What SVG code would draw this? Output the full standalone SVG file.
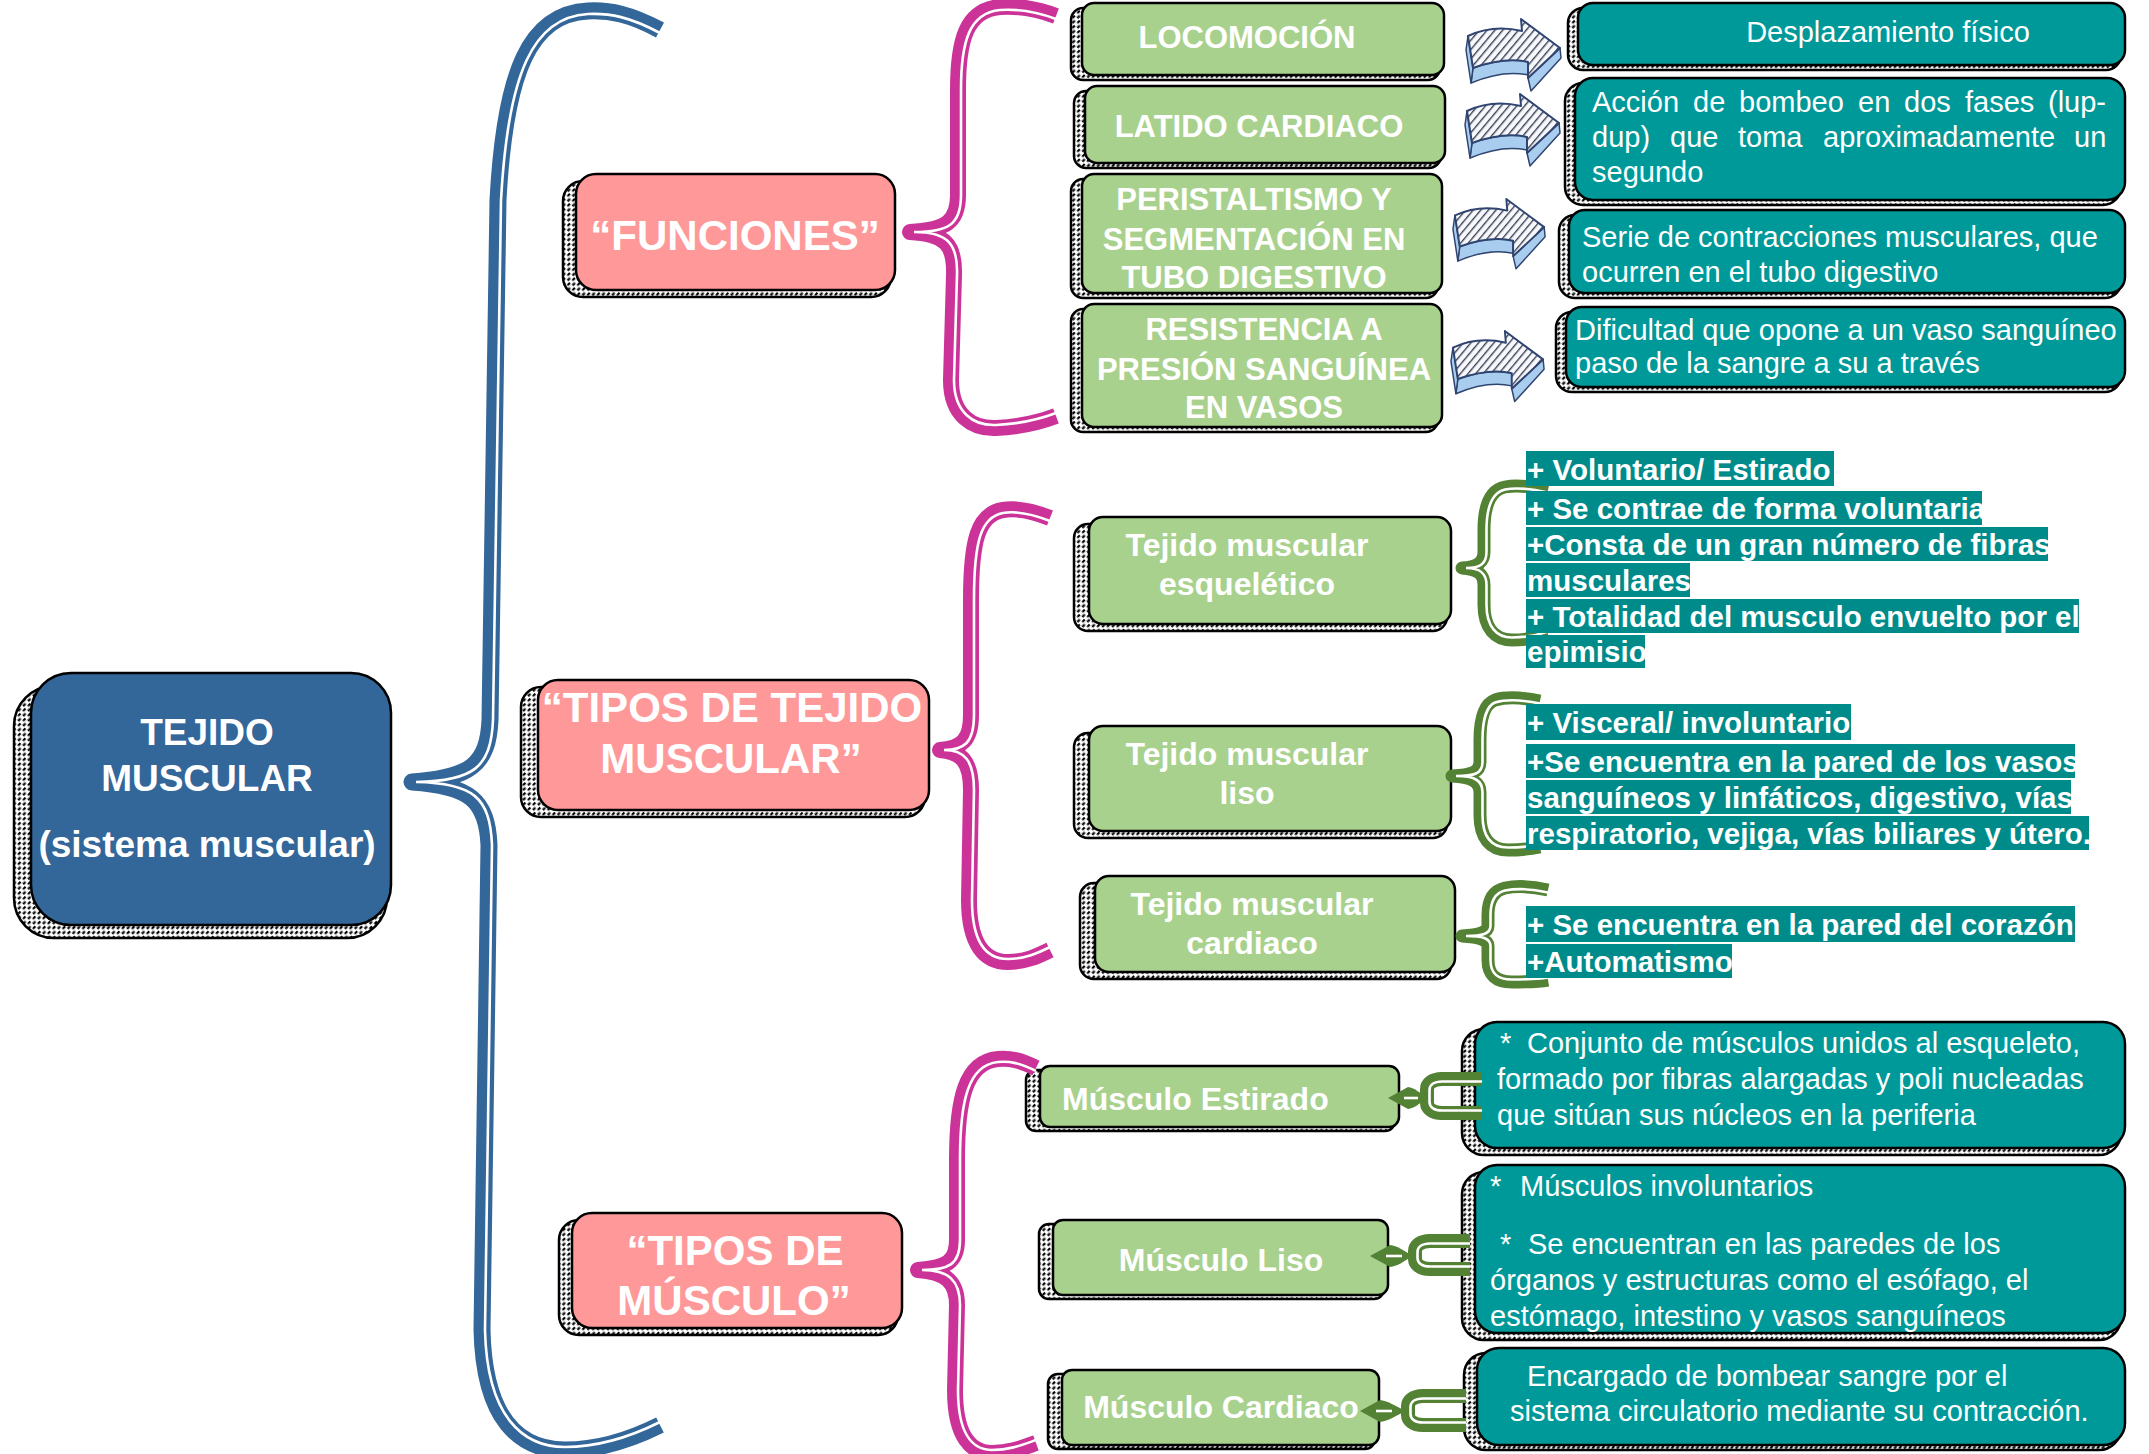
<svg xmlns="http://www.w3.org/2000/svg" width="2149" height="1454" viewBox="0 0 2149 1454">
<defs>
<style>
.sh{fill:url(#hatch);stroke:#000;stroke-width:2.5}
.bx{stroke:#000;stroke-width:2.5}
.blue{fill:#336699}
.pink{fill:#FF9999}
.green{fill:#A9D18E}
.teal{fill:#009999}
.hl{fill:#008B8B}
.tb{font-family:"Liberation Sans",Arial,sans-serif;font-weight:bold;fill:#fff}
.tr{font-family:"Liberation Sans",Arial,sans-serif;fill:#fff}
.c{text-anchor:middle}
.bb{fill:none;stroke:#336699;stroke-width:17;stroke-linejoin:round}
.pb{fill:none;stroke:#CC3399;stroke-width:16;stroke-linejoin:round}
.gb{fill:none;stroke:#548235;stroke-width:13;stroke-linejoin:round}
.wl{fill:none;stroke:#fff;stroke-width:2.6}
.gm{fill:none;stroke:#548235;stroke-width:14}
.leaf{fill:#548235}
.aface{fill:#A9CDEE;stroke:#2F4470;stroke-width:1.5;stroke-linejoin:round}
.atop{fill:url(#ahatch);stroke:#2F4470;stroke-width:2;stroke-linejoin:round}
</style>
<pattern id="hatch" width="7" height="7" patternUnits="userSpaceOnUse" patternTransform="rotate(45)">
<rect width="7" height="7" fill="#fff"/>
<rect x="0" y="0" width="2.2" height="3.5" fill="#000"/>
<rect x="3.5" y="3.5" width="2.2" height="3.5" fill="#000"/>
</pattern>
<pattern id="ahatch" width="6" height="6" patternUnits="userSpaceOnUse" patternTransform="rotate(40)">
<rect width="6" height="6" fill="#F7F8FB"/>
<rect x="0" y="0" width="1.4" height="6" fill="#3A3F55"/>
</pattern>
<g id="arr">
<path class="aface" d="M8,50 C25,44 45,40 63,44 L63,57 C45,53 25,57 6,65 Z"/>
<path class="aface" d="M95,30 L96,40 L66,73 L63,60 Z"/>
<path class="aface" d="M3,18 L8,50 L6,65 L1,32 Z"/>
<path class="atop" d="M3,18 C20,10 40,9 57,13 L56,1 L95,30 L63,60 L63,44 C45,40 25,44 8,50 Z"/>
</g>
</defs>

<rect width="2149" height="1454" fill="#fff"/>

<g id="node-tejido-muscular">
<rect class="sh" x="14" y="686" width="373" height="252" rx="40"/>
<rect class="bx blue" x="31" y="673" width="360" height="252" rx="40"/>
<text class="tb c" font-size="37" x="207" y="745">TEJIDO</text>
<text class="tb c" font-size="37" x="207" y="791">MUSCULAR</text>
<text class="tb c" font-size="37" x="207" y="857">(sistema muscular)</text>
</g>

<g id="node-funciones">
<rect class="sh" x="563" y="181" width="328" height="116" rx="20"/>
<rect class="bx pink" x="576" y="174" width="319" height="116" rx="20"/>
<text class="tb c" font-size="42" x="735" y="250">“FUNCIONES”</text>
</g>

<g id="node-tipos-tejido">
<rect class="sh" x="521" y="687" width="404" height="130" rx="20"/>
<rect class="bx pink" x="538" y="680" width="391" height="130" rx="20"/>
<text class="tb c" font-size="42" x="732" y="722">“TIPOS DE TEJIDO</text>
<text class="tb c" font-size="42" x="731" y="773">MUSCULAR”</text>
</g>

<g id="node-tipos-musculo">
<rect class="sh" x="559" y="1220" width="339" height="115" rx="20"/>
<rect class="bx pink" x="572" y="1213" width="330" height="115" rx="20"/>
<text class="tb c" font-size="42" x="735" y="1265">“TIPOS DE</text>
<text class="tb c" font-size="42" x="734" y="1315">MÚSCULO”</text>
</g>

<g id="node-locomocion">
<rect class="sh" x="1071" y="8" width="369" height="72" rx="12"/>
<rect class="bx green" x="1082" y="3" width="362" height="72" rx="12"/>
<text class="tb c" font-size="31" x="1247" y="48">LOCOMOCIÓN</text>
</g>

<g id="node-latido">
<rect class="sh" x="1074" y="91" width="367" height="77" rx="12"/>
<rect class="bx green" x="1085" y="86" width="360" height="77" rx="12"/>
<text class="tb c" font-size="31" x="1259" y="137">LATIDO CARDIACO</text>
</g>

<g id="node-peristaltismo">
<rect class="sh" x="1071" y="179" width="367" height="119" rx="12"/>
<rect class="bx green" x="1082" y="174" width="360" height="119" rx="12"/>
<text class="tb c" font-size="31" x="1254" y="210">PERISTALTISMO Y</text>
<text class="tb c" font-size="31" x="1254" y="250">SEGMENTACIÓN EN</text>
<text class="tb c" font-size="31" x="1254" y="288">TUBO DIGESTIVO</text>
</g>

<g id="node-resistencia">
<rect class="sh" x="1071" y="309" width="367" height="123" rx="12"/>
<rect class="bx green" x="1082" y="304" width="360" height="123" rx="12"/>
<text class="tb c" font-size="31" x="1264" y="340">RESISTENCIA A</text>
<text class="tb c" font-size="31" x="1264" y="380">PRESIÓN SANGUÍNEA</text>
<text class="tb c" font-size="31" x="1264" y="418">EN VASOS</text>
</g>

<g id="node-desplazamiento">
<rect class="sh" x="1568" y="8" width="553" height="62" rx="15"/>
<rect class="bx teal" x="1578" y="3" width="547" height="62" rx="15"/>
<text class="tr c" font-size="29" x="1888" y="42">Desplazamiento físico</text>
</g>

<g id="node-accion">
<rect class="sh" x="1565" y="83" width="556" height="122" rx="18"/>
<rect class="bx teal" x="1575" y="78" width="550" height="122" rx="18"/>
<text class="tr" font-size="29" y="112"><tspan x="1592">Acción</tspan><tspan x="1693">de</tspan><tspan x="1739">bombeo</tspan><tspan x="1858">en</tspan><tspan x="1904">dos</tspan><tspan x="1965">fases</tspan><tspan x="2048">(lup-</tspan></text>
<text class="tr" font-size="29" y="147"><tspan x="1592">dup)</tspan><tspan x="1670">que</tspan><tspan x="1738">toma</tspan><tspan x="1823">aproximadamente</tspan><tspan x="2074">un</tspan></text>
<text class="tr" font-size="29" x="1592" y="182">segundo</text>
</g>

<g id="node-serie">
<rect class="sh" x="1559" y="215" width="562" height="83" rx="16"/>
<rect class="bx teal" x="1569" y="210" width="556" height="83" rx="16"/>
<text class="tr" font-size="29" x="1582" y="247">Serie de contracciones musculares, que</text>
<text class="tr" font-size="29" x="1582" y="282">ocurren en el tubo digestivo</text>
</g>

<g id="node-dificultad">
<rect class="sh" x="1556" y="312" width="565" height="80" rx="16"/>
<rect class="bx teal" x="1566" y="307" width="559" height="80" rx="16"/>
<text class="tr" font-size="29" x="1575" y="340">Dificultad que opone a un vaso sanguíneo</text>
<text class="tr" font-size="29" x="1575" y="373">paso de la sangre a su a través</text>
</g>

<g id="node-esqueletico">
<rect class="sh" x="1074" y="524" width="373" height="107" rx="14"/>
<rect class="bx green" x="1089" y="517" width="362" height="107" rx="14"/>
<text class="tb c" font-size="32" x="1247" y="556">Tejido muscular</text>
<text class="tb c" font-size="32" x="1247" y="595">esquelético</text>
</g>

<g id="node-liso-tejido">
<rect class="sh" x="1074" y="733" width="373" height="105" rx="14"/>
<rect class="bx green" x="1089" y="726" width="362" height="105" rx="14"/>
<text class="tb c" font-size="32" x="1247" y="765">Tejido muscular</text>
<text class="tb c" font-size="32" x="1247" y="804">liso</text>
</g>

<g id="node-cardiaco-tejido">
<rect class="sh" x="1080" y="883" width="371" height="96" rx="14"/>
<rect class="bx green" x="1095" y="876" width="360" height="96" rx="14"/>
<text class="tb c" font-size="32" x="1252" y="915">Tejido muscular</text>
<text class="tb c" font-size="32" x="1252" y="954">cardiaco</text>
</g>

<g id="node-musculo-estirado">
<rect class="sh" x="1026" y="1070" width="369" height="61" rx="10"/>
<rect class="bx green" x="1040" y="1066" width="359" height="61" rx="10"/>
<text class="tb" font-size="32" x="1062" y="1110">Músculo Estirado</text>
</g>

<g id="node-musculo-liso">
<rect class="sh" x="1039" y="1224" width="345" height="75" rx="10"/>
<rect class="bx green" x="1053" y="1220" width="335" height="75" rx="10"/>
<text class="tb c" font-size="32" x="1221" y="1271">Músculo Liso</text>
</g>

<g id="node-musculo-cardiaco">
<rect class="sh" x="1048" y="1374" width="327" height="75" rx="10"/>
<rect class="bx green" x="1062" y="1370" width="317" height="75" rx="10"/>
<text class="tb c" font-size="32" x="1221" y="1418">Músculo Cardiaco</text>
</g>

<g id="node-conjunto">
<rect class="sh" x="1462" y="1029" width="659" height="126" rx="22"/>
<rect class="bx teal" x="1475" y="1022" width="650" height="126" rx="22"/>
<text class="tr" font-size="29" x="1500" y="1053">*</text>
<text class="tr" font-size="29" x="1527" y="1053">Conjunto de músculos unidos al esqueleto,</text>
<text class="tr" font-size="29" x="1497" y="1089">formado por fibras alargadas y poli nucleadas</text>
<text class="tr" font-size="29" x="1497" y="1125">que sitúan sus núcleos en la periferia</text>
</g>

<g id="node-involuntarios">
<rect class="sh" x="1462" y="1172" width="659" height="168" rx="22"/>
<rect class="bx teal" x="1475" y="1165" width="650" height="168" rx="22"/>
<text class="tr" font-size="29" x="1490" y="1196">*</text>
<text class="tr" font-size="29" x="1520" y="1196">Músculos involuntarios</text>
<text class="tr" font-size="29" x="1500" y="1254">*</text>
<text class="tr" font-size="29" x="1528" y="1254">Se encuentran en las paredes de los</text>
<text class="tr" font-size="29" x="1490" y="1290">órganos y estructuras como el esófago, el</text>
<text class="tr" font-size="29" x="1490" y="1326">estómago, intestino y vasos sanguíneos</text>
</g>

<g id="node-encargado">
<rect class="sh" x="1464" y="1353" width="657" height="97" rx="22"/>
<rect class="bx teal" x="1477" y="1348" width="648" height="97" rx="22"/>
<text class="tr" font-size="29" x="1527" y="1386">Encargado de bombear sangre por el</text>
<text class="tr" font-size="29" x="1510" y="1421">sistema circulatorio mediante su contracción.</text>
</g>

<g id="connectors">
<path class="bb" d="M660,30 C630,14 610,10 588,11 C530,14 505,70 498,200 L490,720 C488,765 470,778 412,782 C470,786 487,800 489,845 L482,1330 C484,1420 520,1450 565,1450 C600,1450 630,1440 660,1425"/>
<path class="wl" d="M660,33 C630,17 610,13 588,14 C533,17 508,73 501,200 L493,720 C491,768 473,781 416,782 C473,783 490,797 492,845 L485,1330 C487,1417 523,1447 565,1447 C600,1447 630,1437 660,1422"/>

<path class="pb" d="M1056,16 C1035,8 1015,6 1000,7 C966,10 958,40 958,90 L958,195 C958,222 946,230 910,232 C946,234 955,245 954,275 L951,380 C951,416 973,429 996,428 C1018,427 1040,422 1056,416"/>
<path class="wl" d="M1056,19 C1035,11 1015,9 1000,10 C969,13 961,42 961,90 L961,195 C961,225 948,232 914,232 C948,232 958,244 957,275 L954,380 C954,413 974,426 996,425 C1018,424 1040,419 1056,413"/>

<path class="pb" d="M1050,518 C1030,510 1015,508 1003,510 C978,514 971,540 971,600 L971,715 C971,740 962,748 940,750 C962,752 971,762 971,790 L969,900 C969,945 985,962 1008,962 C1025,962 1038,956 1050,950"/>
<path class="wl" d="M1050,521 C1030,513 1015,511 1003,513 C981,517 974,541 974,600 L974,715 C974,743 964,750 944,750 C964,750 974,760 974,790 L972,900 C972,942 986,959 1008,959 C1025,959 1038,953 1050,947"/>

<path class="pb" d="M1036,1068 C1020,1060 1010,1058 998,1059 C965,1062 957,1100 957,1160 L957,1240 C957,1262 946,1268 918,1270 C946,1272 957,1282 957,1305 L955,1390 C955,1438 972,1453 992,1453 C1010,1453 1022,1448 1036,1443"/>
<path class="wl" d="M1036,1071 C1020,1063 1010,1061 998,1062 C968,1065 960,1101 960,1160 L960,1240 C960,1265 948,1270 922,1270 C948,1270 960,1280 960,1305 L958,1390 C958,1435 973,1450 992,1450 C1010,1450 1022,1445 1036,1440"/>

<path class="gb" d="M1548,490 C1530,486 1515,485 1505,487 C1490,490 1484,505 1484,530 L1484,552 C1484,562 1478,567 1462,568 C1478,569 1484,574 1484,585 L1484,605 C1484,628 1495,640 1512,640 C1525,640 1537,638 1548,634"/>
<path class="wl" d="M1548,492.5 C1530,488.5 1515,487.5 1505,489.5 C1492.5,492.5 1486.5,506 1486.5,530 L1486.5,552 C1486.5,564 1480,568 1466,568 C1480,568 1486.5,573 1486.5,585 L1486.5,605 C1486.5,626 1496,637.5 1512,637.5 C1525,637.5 1537,635.5 1548,631.5"/>

<path class="gb" d="M1540,701 C1520,697 1505,697 1495,700 C1484,704 1480,720 1480,740 L1480,762 C1480,772 1472,775 1452,776 C1472,777 1480,782 1480,792 L1480,815 C1480,838 1490,850 1508,850 C1520,850 1530,849 1540,847"/>
<path class="wl" d="M1540,703.5 C1520,699.5 1505,699.5 1495,702.5 C1486.5,706 1482.5,721 1482.5,740 L1482.5,762 C1482.5,774 1474,776 1456,776 C1474,776 1482.5,780 1482.5,792 L1482.5,815 C1482.5,836 1491,847.5 1508,847.5 C1520,847.5 1530,846.5 1540,844.5"/>

<path class="gb" d="M1548,890 C1530,886 1515,886 1505,888 C1492,891 1488,902 1488,915 L1488,926 C1488,932 1480,935 1462,936 C1480,937 1488,940 1488,946 L1488,960 C1488,975 1496,982 1512,982 C1525,982 1537,982 1548,980"/>
<path class="wl" d="M1548,892.5 C1530,888.5 1515,888.5 1505,890.5 C1494.5,893 1490.5,903 1490.5,915 L1490.5,926 C1490.5,934 1482,936 1466,936 C1482,936 1490.5,938 1490.5,946 L1490.5,960 C1490.5,973 1497,979.5 1512,979.5 C1525,979.5 1537,979.5 1548,977.5"/>

<path class="gm" d="M1482,1079 L1442,1079 C1432,1079 1427,1084 1427,1089 L1427,1103 C1427,1108 1432,1113 1442,1113 L1482,1113"/>
<path class="wl" d="M1482,1081.5 L1442,1081.5 C1434,1081.5 1429.5,1085 1429.5,1090 L1429.5,1102 C1429.5,1107 1434,1110.5 1442,1110.5 L1482,1110.5"/>
<path class="leaf" d="M1388,1098 L1408,1087 C1414,1088 1420,1092 1426,1098 C1420,1104 1414,1108 1408,1109 Z"/>
<path class="wl" stroke-width="1" d="M1404,1098 L1418,1098"/>

<path class="gm" d="M1470,1241 L1430,1241 C1420,1241 1415,1246 1415,1251 L1415,1259 C1415,1264 1420,1269 1430,1269 L1470,1269"/>
<path class="wl" d="M1470,1243.5 L1430,1243.5 C1422,1243.5 1417.5,1247 1417.5,1252 L1417.5,1258 C1417.5,1263 1422,1266.5 1430,1266.5 L1470,1266.5"/>
<path class="leaf" d="M1370,1256 L1390,1245 C1397,1246 1404,1250 1412,1256 C1404,1262 1397,1266 1390,1267 Z"/>
<path class="wl" stroke-width="1" d="M1386,1256 L1402,1256"/>

<path class="gm" d="M1466,1396 L1423,1396 C1413,1396 1408,1401 1408,1406 L1408,1415 C1408,1420 1413,1425 1423,1425 L1466,1425"/>
<path class="wl" d="M1466,1398.5 L1423,1398.5 C1415,1398.5 1410.5,1402 1410.5,1407 L1410.5,1414 C1410.5,1419 1415,1422.5 1423,1422.5 L1466,1422.5"/>
<path class="leaf" d="M1360,1411 L1380,1400 C1387,1401 1395,1405 1405,1411 C1395,1417 1387,1421 1380,1422 Z"/>
<path class="wl" stroke-width="1" d="M1376,1411 L1392,1411"/>

<use href="#arr" transform="translate(1465,18)"/>
<use href="#arr" transform="translate(1464,93)"/>
<use href="#arr" transform="translate(1452,198) scale(0.97)"/>
<use href="#arr" transform="translate(1450,330) scale(0.98)"/>
</g>

<g id="node-esqueletico-rasgos">
<rect class="hl" x="1526" y="451" width="308" height="35"/>
<rect class="hl" x="1526" y="491" width="456" height="34"/>
<rect class="hl" x="1526" y="527" width="522" height="34"/>
<rect class="hl" x="1526" y="563" width="164" height="34"/>
<rect class="hl" x="1526" y="599" width="553" height="34"/>
<rect class="hl" x="1526" y="635" width="119" height="33"/>
<text class="tb" font-size="29.5" x="1527" y="480">+ Voluntario/ Estirado</text>
<text class="tb" font-size="29.5" x="1527" y="519">+ Se contrae de forma voluntaria</text>
<text class="tb" font-size="29.5" x="1527" y="555">+Consta de un gran número de fibras</text>
<text class="tb" font-size="29.5" x="1527" y="591">musculares</text>
<text class="tb" font-size="29.5" x="1527" y="627">+ Totalidad del musculo envuelto por el</text>
<text class="tb" font-size="29.5" x="1527" y="662">epimisio</text>
</g>

<g id="node-liso-rasgos">
<rect class="hl" x="1526" y="704" width="325" height="36"/>
<rect class="hl" x="1526" y="744" width="549" height="34"/>
<rect class="hl" x="1526" y="780" width="545" height="34"/>
<rect class="hl" x="1526" y="816" width="563" height="34"/>
<text class="tb" font-size="29.5" x="1527" y="733">+ Visceral/ involuntario</text>
<text class="tb" font-size="29.5" x="1527" y="772">+Se encuentra en la pared de los vasos</text>
<text class="tb" font-size="29.5" x="1527" y="808">sanguíneos y linfáticos, digestivo, vías</text>
<text class="tb" font-size="29.5" x="1527" y="844">respiratorio, vejiga, vías biliares y útero.</text>
</g>

<g id="node-cardiaco-rasgos">
<rect class="hl" x="1526" y="906" width="549" height="36"/>
<rect class="hl" x="1526" y="944" width="206" height="34"/>
<text class="tb" font-size="29.5" x="1527" y="935">+ Se encuentra en la pared del corazón</text>
<text class="tb" font-size="29.5" x="1527" y="972">+Automatismo</text>
</g>
</svg>
